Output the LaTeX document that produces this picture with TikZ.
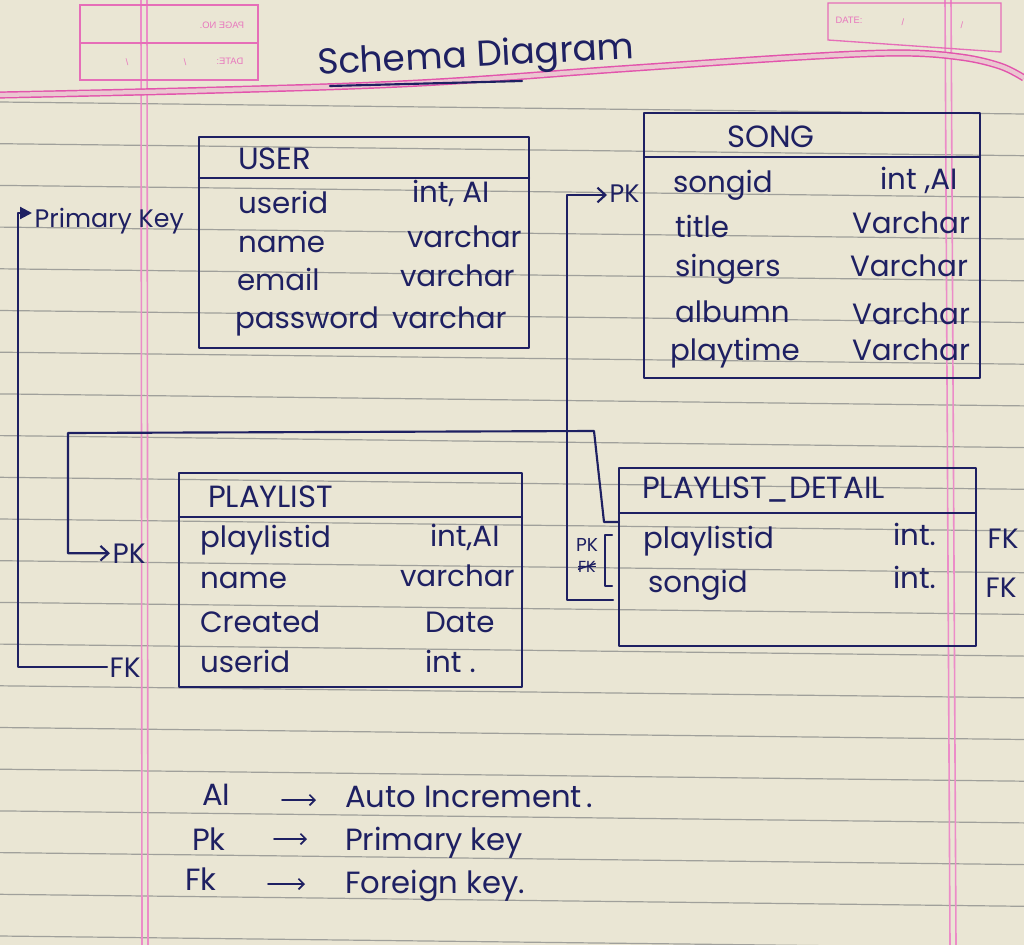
\documentclass[tikz,border=0pt]{standalone}
\usepackage{fontspec}
\usepackage{graphicx}
\setmainfont{Poppins}
\newfontfamily\printfont{Liberation Sans}
\usetikzlibrary{arrows.meta,fit}

\definecolor{paper}{RGB}{234,230,212}
\definecolor{ruling}{RGB}{160,160,155}
\definecolor{margin}{RGB}{236,140,200}
\definecolor{headline}{RGB}{226,84,172}
\definecolor{ink}{RGB}{30,32,98}

\tikzset{
  inkline/.style={draw=ink, line width=1.6pt, line cap=round, line join=round},
  tablebox/.style={inkline, rectangle, inner sep=0pt, outer sep=0pt},
  txt/.style={anchor=base west, inner sep=0pt, outer sep=0pt, text=ink,
              font=\fontsize{22}{24}\selectfont},
  ttl/.style={txt, font=\fontsize{23}{26}\selectfont},
  keylbl/.style={txt, outer sep=2pt, font=\fontsize{21}{24}\selectfont},
  legendtxt/.style={txt, font=\fontsize{23}{26}\selectfont},
  legendarrow/.style={draw=ink, line width=1.3pt, line cap=round,
                      -{Straight Barb[length=4pt,width=8pt]}},
  pinktxt/.style={text=headline!80, inner sep=0pt, font=\printfont\fontsize{7}{8}\selectfont},
  barb/.style={-{Straight Barb[length=6pt,width=11pt]}},
  tri/.style={-{Triangle[length=9pt,width=9pt]}},
}

\begin{document}
\begin{tikzpicture}[x=0.75pt,y=-0.75pt]
% paper
\fill[paper] (0,0) rectangle (1024,945);
\useasboundingbox (0,0) rectangle (1024,945);

% ruled lines
\foreach \n in {0,...,20}
  \draw[ruling, line width=0.9pt] (0,{102+41.7*\n}) -- (1024,{114+41.7*\n});

% margin lines
\draw[margin, line width=1.2pt] (141,0) -- (142,945) (147,0) -- (148,945);
\draw[margin, line width=1.2pt] (945,0) -- (950,945) (951,0) -- (956,945);

% printed header rule
\draw[headline, line width=1.1pt, double=margin!35!paper, double distance=3.2pt]
  plot[smooth, tension=0.6] coordinates {(0,95) (220,90) (420,83) (620,69) (800,57) (900,53) (960,57) (1000,66) (1024,78)};

% printed page-number / date boxes
\draw[headline!85, line width=1pt] (80,5) rectangle (258,80) (80,43) -- (258,43);
\node[pinktxt] at (222,25) {\reflectbox{PAGE NO.}};
\node[pinktxt] at (230,61) {\reflectbox{DATE:}};
\node[pinktxt] at (127,62) {\reflectbox{/}};
\node[pinktxt] at (185,62) {\reflectbox{/}};
\draw[headline!85, line width=1pt] (828,3) -- (828,40) -- (1001,52) -- (1001,3) -- cycle;
\node[pinktxt] at (849,20) {DATE:};
\node[pinktxt] at (903,22) {/};
\node[pinktxt] at (962,25) {/};

% title
\node[txt, font=\fontsize{27}{30}\selectfont, rotate=3] (title) at (318,75) {Schema Diagram};
\coordinate (ulA) at (330,86);
\coordinate (ulB) at (522,81);
\draw[inkline] (ulA) -- (ulB);

% ---------- USER ----------
\coordinate (userNW) at (199,137);
\coordinate (userSE) at (529,348);
\node[tablebox, fit=(userNW)(userSE)] (user) {};
\draw[inkline] (user.west |- 0,178) -- (user.east |- 0,178);
\node[ttl] (userT) at (238,170) {USER};
\node[txt] (u1) at (238,214) {userid};   \node[txt] (u1t) at (412,202) {int, AI};
\node[txt] (u2) at (238,252) {name};     \node[txt] (u2t) at (407,247) {varchar};
\node[txt] (u3) at (237,290) {email};    \node[txt] (u3t) at (400,286) {varchar};
\node[txt] (u4) at (235,328) {password}; \node[txt] (u4t) at (392,328) {varchar};

% ---------- SONG ----------
\coordinate (songNW) at (644,113);
\coordinate (songSE) at (980,378);
\node[tablebox, fit=(songNW)(songSE)] (song) {};
\draw[inkline] (song.west |- 0,157) -- (song.east |- 0,157);
\node[ttl] (songT) at (727,147) {SONG};
\node[txt] (s1) at (673,192) {songid};   \node[txt] (s1t) at (880,190) {int ,AI};
\node[txt] (s2) at (675,237) {title};    \node[txt] (s2t) at (852,233) {Varchar};
\node[txt] (s3) at (675,276) {singers};  \node[txt] (s3t) at (850,276) {Varchar};
\node[txt] (s4) at (675,322) {albumn};   \node[txt] (s4t) at (852,324) {Varchar};
\node[txt] (s5) at (670,360) {playtime}; \node[txt] (s5t) at (852,360) {Varchar};

% ---------- PLAYLIST ----------
\coordinate (plNW) at (179,473);
\coordinate (plSE) at (522,687);
\node[tablebox, fit=(plNW)(plSE)] (playlist) {};
\draw[inkline] (playlist.west |- 0,517) -- (playlist.east |- 0,517);
\node[ttl] (plT) at (208,507) {PLAYLIST};
\node[txt] (p1) at (200,547) {playlistid}; \node[txt] (p1t) at (430,546) {int,AI};
\node[txt] (p2) at (200,588) {name};       \node[txt] (p2t) at (400,586) {varchar};
\node[txt] (p3) at (200,632) {Created};    \node[txt] (p3t) at (425,632) {Date};
\node[txt] (p4) at (200,672) {userid};     \node[txt] (p4t) at (425,672) {int .};

% ---------- PLAYLIST_DETAIL ----------
\coordinate (pdNW) at (619,468);
\coordinate (pdSE) at (976,646);
\node[tablebox, fit=(pdNW)(pdSE)] (detail) {};
\draw[inkline] (detail.west |- 0,513) -- (detail.east |- 0,513);
\node[ttl] (pdT) at (642,498) {PLAYLIST\_DETAIL};
\node[txt] (d1) at (643,548) {playlistid}; \node[txt] (d1t) at (893,545) {int.};
\node[txt] (d2) at (648,592) {songid};     \node[txt] (d2t) at (893,588) {int.};
\node[keylbl] (d1k) at (985,548) {FK};
\node[keylbl] (d2k) at (983,597) {FK};

% composite key bracket
\coordinate (brA) at (612,535);
\coordinate (brB) at (605,535);
\coordinate (brC) at (605,586);
\coordinate (brD) at (612,586);
\draw[inkline] (brA) -- (brB) -- (brC) -- (brD);
\node[txt, font=\fontsize{14}{16}\selectfont] (pkPd) at (576,551) {PK};
\node[txt, font=\fontsize{12}{14}\selectfont] (fkX) at (578,572) {FK};
\draw[ink, line width=1.1pt] (fkX.west) -- (fkX.east);
\draw[ink, line width=1.1pt] ([yshift=2pt]fkX.south west) -- ([yshift=-2pt]fkX.north east);

% ---------- key labels and connectors ----------
\node[keylbl, font=\fontsize{19}{22}\selectfont] (pkUser) at (32,227) {Primary Key};
\node[keylbl] (fkPl) at (107,677) {FK};
\node[keylbl] (pkPl) at (110,563) {PK};
\node[keylbl, font=\fontsize{19}{22}\selectfont] (pkSong) at (607,203) {PK};

% playlist.userid -> user.userid
\coordinate (aTop) at (18,213);
\draw[inkline, tri] (fkPl.west) -| (aTop) -- (pkUser.west |- aTop);

% playlist_detail.playlistid -> playlist.playlistid
\coordinate (bJog) at (604,522);
\coordinate (bTR) at (594,431);
\coordinate (bTL) at (68,433);
\draw[inkline, barb] (detail.west |- bJog) -- (bJog) -- (bTR) -- (bTL) |- (pkPl.west);

% playlist_detail.songid -> song.songid
\coordinate (cEnd) at (613,600);
\coordinate (cTop) at (567,195);
\draw[inkline, barb] (cEnd) -| (cTop) -- (pkSong.west |- cTop);

% ---------- legend ----------
\node[legendtxt] (lgAI) at (202,805) {AI};
\node[legendtxt] (lgAIt) at (345,807) {Auto Increment\,.};
\node[legendtxt] (lgPk) at (192,850) {Pk};
\node[legendtxt] (lgPkt) at (345,850) {Primary key};
\node[legendtxt] (lgFk) at (185,890) {Fk};
\node[legendtxt] (lgFkt) at (345,893) {Foreign key.};
\coordinate (la1) at (282,800); \coordinate (lb1) at (316,800);
\coordinate (la2) at (274,839); \coordinate (lb2) at (307,839);
\coordinate (la3) at (268,884); \coordinate (lb3) at (305,884);
\draw[legendarrow] (la1) -- (lb1);
\draw[legendarrow] (la2) -- (lb2);
\draw[legendarrow] (la3) -- (lb3);
\end{tikzpicture}
\end{document}
